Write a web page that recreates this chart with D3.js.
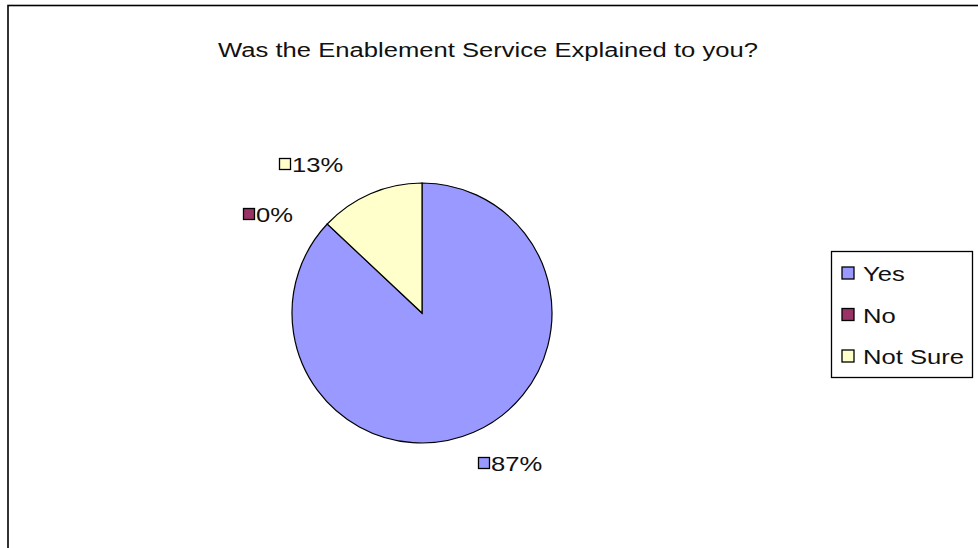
<!DOCTYPE html>
<html>
<head>
<meta charset="utf-8">
<script src="https://cdn.jsdelivr.net/npm/d3@7"></script>
<style>
  html, body { margin: 0; padding: 0; background: #fff; }
  svg { display: block; }
  text { font-family: "Liberation Sans", Arial, sans-serif; fill: #111; }
</style>
</head>
<body>
<svg id="chart" width="978" height="548"></svg>
<script>
// Survey answers and their shares (percent)
const categories = ["Yes", "No", "Not Sure"];
const values = [87, 0, 13];
const colors = ["#9999FF", "#993366", "#FFFFCC"];
const title = "Was the Enablement Service Explained to you?";

const svg = d3.select("#chart");
const FONT = 21, SX = 1.22; // wide, screen-style lettering

// Text helper: horizontally widened label anchored at (x, y baseline)
function wideText(parent, x, y, str, anchor) {
  const g = parent.append("g").attr("transform", `translate(${x},${y}) scale(${SX},1)`);
  return g.append("text")
    .attr("font-size", FONT)
    .attr("text-anchor", anchor || "start")
    .text(str);
}

// Chart area frame (runs off the right and bottom edges)
svg.append("rect")
  .attr("x", 8).attr("y", 5.5)
  .attr("width", 1000).attr("height", 600)
  .attr("fill", "#fff").attr("stroke", "#000").attr("stroke-width", 1.6);

wideText(svg, 488, 57, title, "middle");

const cx = 422, cy = 313, r = 130;
const color = d3.scaleOrdinal().domain(categories).range(colors);

const pie = d3.pie().sort(null).value(d => d.value);
const arcs = pie(categories.map((c, i) => ({ name: c, value: values[i] })));
const arc = d3.arc().innerRadius(0).outerRadius(r);

const g = svg.append("g").attr("transform", `translate(${cx},${cy})`);
g.selectAll("path")
  .data(arcs.filter(d => d.endAngle > d.startAngle))
  .join("path")
  .attr("d", arc)
  .attr("fill", d => color(d.data.name))
  .attr("stroke", "#000")
  .attr("stroke-width", 1.2);

// Data labels: placed outside the slices, each with a colour key
const labelPos = {
  "Yes":      { x: 484, y: 463 },
  "No":       { x: 249, y: 214 },
  "Not Sure": { x: 285, y: 164 }
};
const lab = svg.append("g");
arcs.forEach(d => {
  const p = labelPos[d.data.name];
  lab.append("rect")
    .attr("x", p.x - 5.5).attr("y", p.y - 5.5).attr("width", 11).attr("height", 11)
    .attr("fill", color(d.data.name))
    .attr("stroke", "#000").attr("stroke-width", 1.3);
  wideText(lab, p.x + 7, p.y + 8, d3.format(".0f")(d.data.value) + "%");
});

// Legend
const lg = svg.append("g");
lg.append("rect")
  .attr("x", 831.5).attr("y", 251.5).attr("width", 141).attr("height", 126)
  .attr("fill", "#fff").attr("stroke", "#000").attr("stroke-width", 1.3);
categories.forEach((c, i) => {
  const y = 273 + i * 41.5;
  lg.append("rect")
    .attr("x", 842).attr("y", y - 6).attr("width", 12).attr("height", 12)
    .attr("fill", color(c))
    .attr("stroke", "#000").attr("stroke-width", 1.3);
  wideText(lg, 863, y + 8, c);
});
</script>
</body>
</html>
